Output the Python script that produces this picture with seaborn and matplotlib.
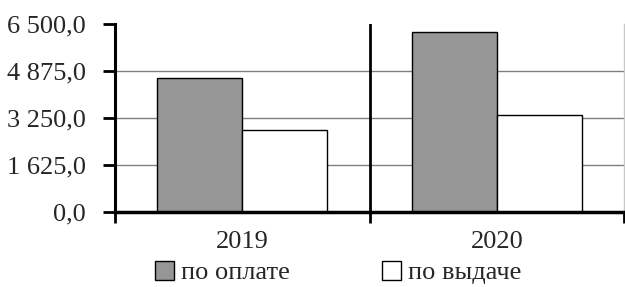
import matplotlib
matplotlib.use("Agg")
import matplotlib.pyplot as plt
import seaborn as sns
import pandas as pd
from matplotlib.ticker import FixedLocator, FuncFormatter, NullFormatter
from matplotlib.patches import Patch

years = ["2019", "2020"]
series_names = ["по оплате", "по выдаче"]
po_oplate = [4650, 6235]
po_vydache = [2830, 3346]
y_ticks = [0, 1625, 3250, 4875, 6500]

df = pd.DataFrame({
    "year": years * 2,
    "series": [series_names[0]] * 2 + [series_names[1]] * 2,
    "value": po_oplate + po_vydache,
})

sns.set_style("white")
plt.rcParams["font.family"] = ["Liberation Serif", "DejaVu Serif"]

fig = plt.figure(figsize=(6.25, 2.87), dpi=100)
ax = fig.add_axes([0.184, 0.2613, 0.8144, 0.6551])

sns.barplot(data=df, x="year", y="value", hue="series", order=years,
            hue_order=series_names, palette=["#969696", "#ffffff"],
            edgecolor="black", linewidth=1.0, width=0.667, saturation=1,
            ax=ax, zorder=3, legend=False)

ax.set_xlim(-0.5, 1.5)
ax.set_ylim(0, 6500)
ax.set_xlabel("")
ax.set_ylabel("")

for v in y_ticks[1:-1]:
    ax.axhline(v, color="#808080", linewidth=1.0, zorder=1)
ax.axvline(0.5, color="black", linewidth=2.0, zorder=4)

def fmt(v, pos):
    return f"{v:,.1f}".replace(",", " ").replace(".", ",")
ax.yaxis.set_major_locator(FixedLocator(y_ticks))
ax.yaxis.set_major_formatter(FuncFormatter(fmt))
ax.tick_params(axis="y", which="major", direction="out", length=9, width=2,
               color="black", labelsize=19, pad=12, left=True)

ax.xaxis.set_major_locator(FixedLocator([-0.5, 0.5, 1.5]))
ax.xaxis.set_major_formatter(NullFormatter())
ax.xaxis.set_minor_locator(FixedLocator([0, 1]))
ax.set_xticklabels(years, minor=True)
ax.tick_params(axis="x", which="major", direction="out", length=8, width=2,
               color="black", bottom=True)
ax.tick_params(axis="x", which="minor", length=0, labelsize=19, pad=14)

ax.spines["top"].set_visible(False)
ax.spines["left"].set_linewidth(2.2)
ax.spines["left"].set_color("black")
ax.spines["bottom"].set_linewidth(2.5)
ax.spines["bottom"].set_color("black")
ax.spines["right"].set_color("#c8c8c8")
ax.spines["right"].set_linewidth(1.0)
for sp in ax.spines.values():
    sp.set_zorder(5)

handles = [Patch(facecolor="#969696", edgecolor="black", linewidth=1.0),
           Patch(facecolor="#ffffff", edgecolor="black", linewidth=1.0)]
fig.legend(handles, series_names, loc="center", bbox_to_anchor=(0.541, 0.05),
           ncol=2, frameon=False, fontsize=19, handlelength=0.72,
           handleheight=0.72, handletextpad=0.25, columnspacing=3.5,
           borderpad=0)

fig.savefig("out.png", dpi=100)
